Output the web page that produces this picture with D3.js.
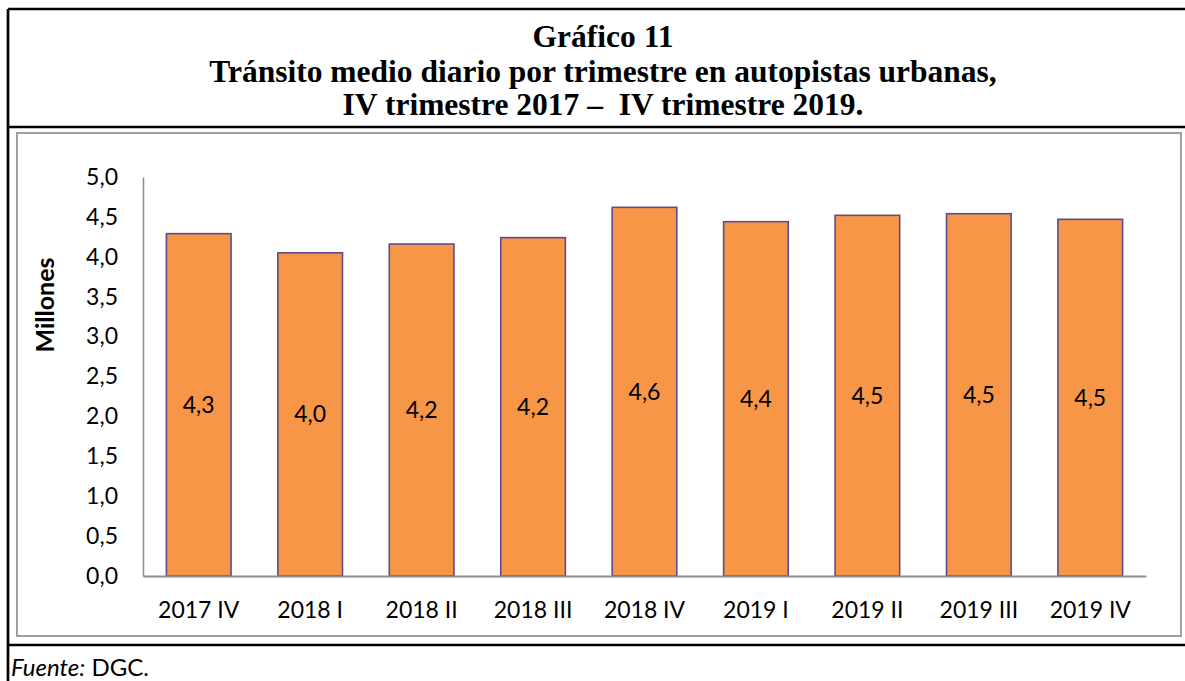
<!DOCTYPE html>
<html>
<head>
<meta charset="utf-8">
<script src="https://cdn.jsdelivr.net/npm/d3@7"></script>
<style>
  body { margin: 0; background: #fff; }
  svg { display: block; }
</style>
</head>
<body>
<svg width="1185" height="681"></svg>
<script>
// data
const categories = ["2017 IV", "2018 I", "2018 II", "2018 III", "2018 IV", "2019 I", "2019 II", "2019 III", "2019 IV"];
const values = [4.29, 4.05, 4.16, 4.24, 4.62, 4.44, 4.52, 4.54, 4.47];
const yTicks = [0, 0.5, 1, 1.5, 2, 2.5, 3, 3.5, 4, 4.5, 5];
const titleLines = ["Gráfico 11", "Tránsito medio diario por trimestre en autopistas urbanas,", "IV trimestre 2017 –  IV trimestre 2019."];

window.addEventListener('load', () => {
    const svg = d3.select("svg");
    const fmt = d => d3.format(".1f")(d).replace(".", ",");
    const sans = "Lato, 'Open Sans', sans-serif";

    // outer frame lines (black)
    const frame = svg.append("g").attr("stroke", "#000").attr("stroke-width", 2.7);
    frame.append("line").attr("x1", 8).attr("x2", 1185).attr("y1", 9).attr("y2", 9);
    frame.append("line").attr("x1", 8).attr("x2", 8).attr("y1", 9).attr("y2", 681);
    frame.append("line").attr("x1", 8).attr("x2", 1185).attr("y1", 127).attr("y2", 127);
    frame.append("line").attr("x1", 8).attr("x2", 1185).attr("y1", 645).attr("y2", 645);

    // title
    const baselines = [47, 81.5, 115];
    svg.append("g").selectAll("text")
        .data(titleLines)
        .enter().append("text")
        .attr("x", 603)
        .attr("y", (d, i) => baselines[i])
        .attr("text-anchor", "middle")
        .style("font-family", "'Liberation Serif', 'Times New Roman', serif")
        .style("font-weight", "bold")
        .style("font-size", "31.5px")
        .style("white-space", "pre")
        .text(d => d);

    // inner chart area box
    svg.append("rect")
        .attr("x", 17).attr("y", 133)
        .attr("width", 1164).attr("height", 503)
        .attr("fill", "#fff")
        .attr("stroke", "#a0a0a0")
        .attr("stroke-width", 2);

    const left = 143, right = 1146, top = 177, bottom = 576;

    const x = d3.scaleBand().domain(categories).range([left, right])
        .paddingInner(0.42).paddingOuter(0.21);
    const y = d3.scaleLinear().domain([0, 5]).range([bottom, top]);

    // bars
    svg.append("g").selectAll("rect")
        .data(values)
        .enter().append("rect")
        .attr("x", (d, i) => x(categories[i]))
        .attr("y", d => y(d))
        .attr("width", x.bandwidth())
        .attr("height", d => y(0) - y(d))
        .attr("fill", "#f79646")
        .attr("stroke", "#5f4b8b")
        .attr("stroke-width", 1.6);

    // value labels in the middle of each bar
    svg.append("g").selectAll("text")
        .data(values)
        .enter().append("text")
        .attr("x", (d, i) => x(categories[i]) + x.bandwidth() / 2)
        .attr("y", d => y(d / 2))
        .attr("dy", "0.35em")
        .attr("text-anchor", "middle")
        .style("font-family", sans)
        .style("font-size", "23px")
        .attr("fill", "#000")
        .text(d => fmt(d));

    // y axis
    const yAxis = svg.append("g").attr("transform", "translate(" + left + ",0)")
        .call(d3.axisLeft(y).tickValues(yTicks).tickFormat(fmt).tickSize(0).tickPadding(25));
    yAxis.select(".domain").attr("stroke", "#8c8c8c").attr("stroke-width", 1.5);
    yAxis.selectAll("text").style("font-family", sans).style("font-size", "23px").attr("fill", "#000");

    // x axis
    const xAxis = svg.append("g").attr("transform", "translate(0," + bottom + ")")
        .call(d3.axisBottom(x).tickSize(0).tickPadding(26));
    xAxis.select(".domain").attr("stroke", "#8c8c8c").attr("stroke-width", 2);
    xAxis.selectAll("text").style("font-family", sans).style("font-size", "23px").attr("fill", "#000");

    // y axis title
    svg.append("text")
        .attr("transform", "translate(54,305) rotate(-90)")
        .attr("text-anchor", "middle")
        .style("font-family", sans)
        .style("font-weight", "bold")
        .style("font-size", "25px")
        .text("Millones");

    // source
    const src = svg.append("text").attr("x", 11).attr("y", 676)
        .style("font-family", sans).style("font-size", "24px");
    src.append("tspan").style("font-style", "italic").text("Fuente:");
    src.append("tspan").text(" DGC.");
});
</script>
</body>
</html>
